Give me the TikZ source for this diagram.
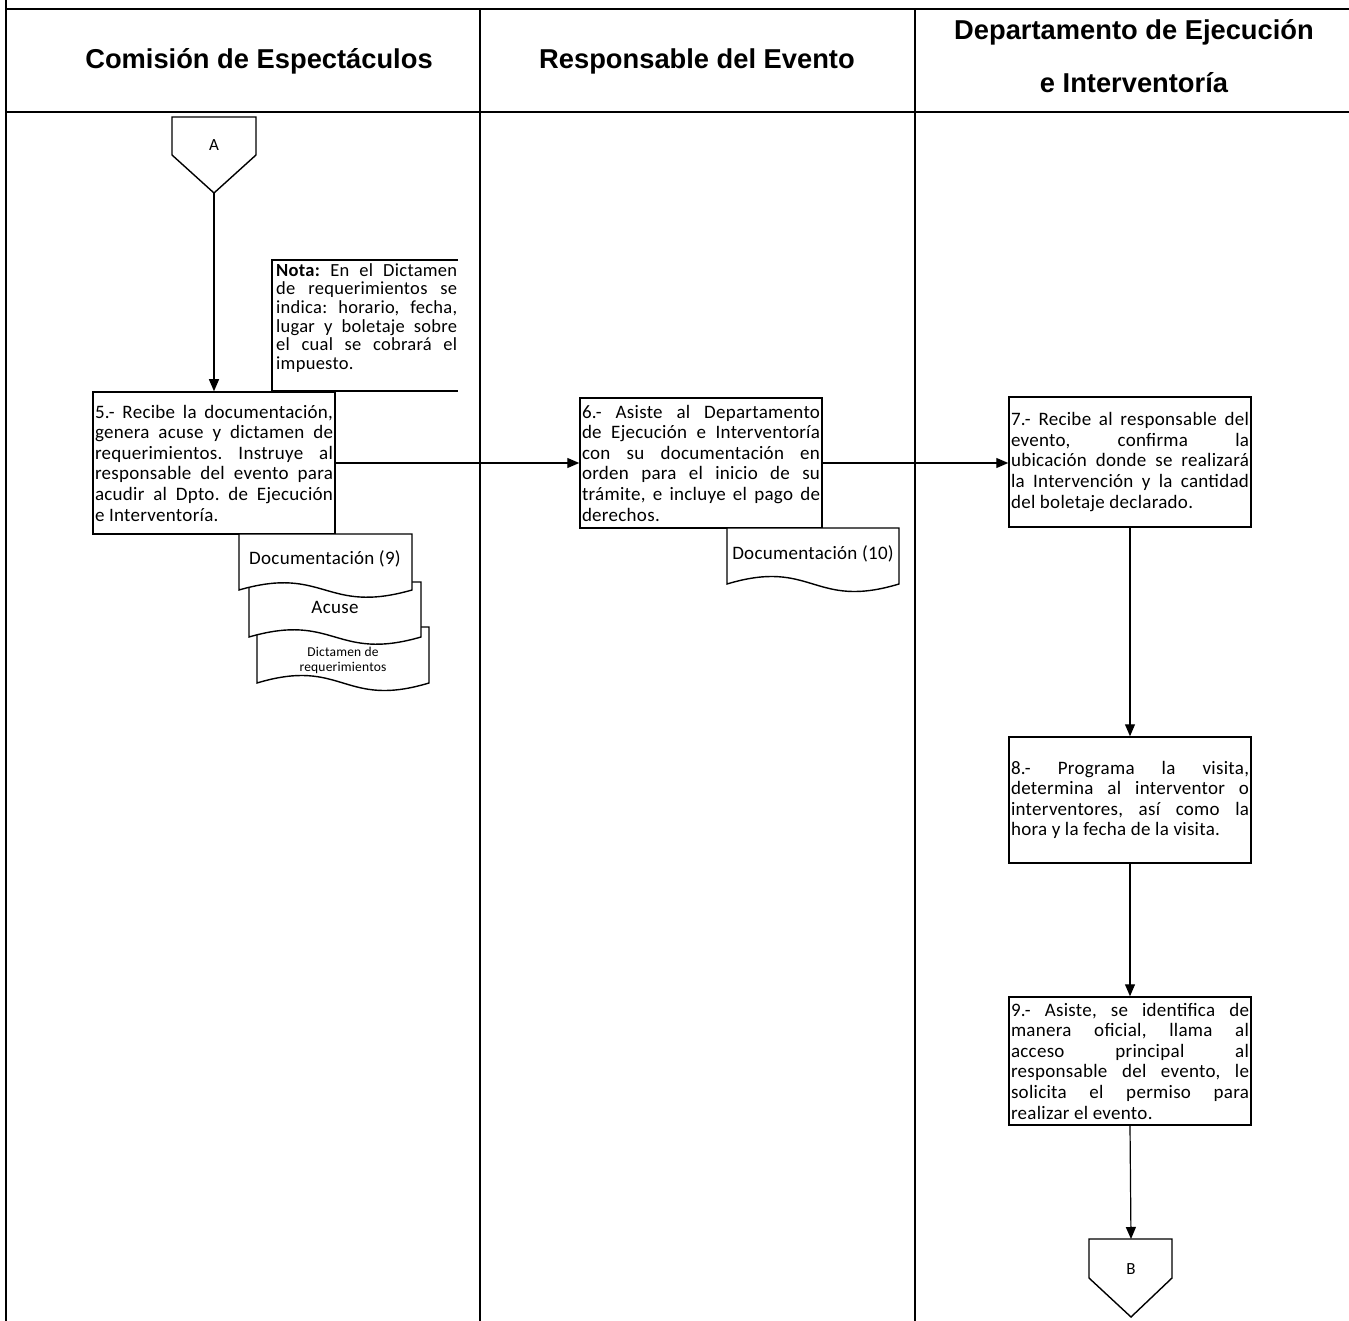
\documentclass[tikz,border=0pt]{standalone}
\usepackage{fontspec}
\setmainfont{Carlito}[LetterSpace=1.5]
\newfontfamily\hdrfont{Liberation Sans}
\usetikzlibrary{arrows.meta,calc}
\frenchspacing
\begin{document}
\begin{tikzpicture}[x=1pt,y=-1pt,
  frame/.style={line width=2.4pt},
  stepbox/.style={draw, line width=1.5pt, text width=238pt, minimum width=242pt,
    align=justify, inner sep=2pt, font=\fontsize{19}{20.6}\selectfont,
    execute at begin node={\hyphenpenalty=10000\exhyphenpenalty=10000\emergencystretch=0pt}},
  arr/.style={line width=1.2pt, -{Triangle[length=12pt,width=10pt]}},
  hdr/.style={font=\hdrfont\bfseries\fontsize{27.3}{34}\selectfont, align=center},
  docshape/.style={draw, line width=1.4pt, fill=white},
  conn/.style={draw, line width=1.4pt, fill=white},
  doctext/.style={font=\fontsize{19}{20}\selectfont, inner sep=0pt, align=center},
]
\useasboundingbox (0,0) rectangle (1349,1321);
% frame
\draw[frame] (6,0) -- (6,1321);
\draw[frame] (6,9) -- (1349,9);
\draw[frame] (6,112) -- (1349,112);
\draw[frame] (480,9) -- (480,1321);
\draw[frame] (915,9) -- (915,1321);
% headers
\node[hdr] (h1) at (259,61) {Comisión de Espectáculos};
\node[hdr] (h2) at (697,61) {Responsable del Evento};
\node[hdr, font=\hdrfont\bfseries\fontsize{27.3}{53}\selectfont] (h3) at (1134,56) {Departamento de Ejecución\\e Interventoría};
% connector A
\path[conn] (172,117) -- (256,117) -- (256,155) -- (214,193) -- (172,155) -- cycle;
\node[font=\fontsize{17}{19}\selectfont, inner sep=0pt] (A) at (214,145) {A};
\coordinate (Atip) at (214,193);
% nota
\draw[line width=1.5pt] (458,260) -- (272,260) -- (272,391) -- (458,391);
\node[anchor=north west, text width=181pt, align=justify, inner sep=0pt,
  font=\fontsize{18.5}{18.7}\selectfont,
  execute at begin node={\hyphenpenalty=10000\exhyphenpenalty=10000}] (nota) at (276,263)
  {\textbf{Nota:} En el Dictamen\linebreak de requerimientos se\linebreak indica: horario, fecha,\linebreak lugar y boletaje sobre\linebreak el cual se cobrará el\linebreak impuesto.};
% step boxes
\node[stepbox, minimum height=142pt] (b5) at (214,463)
  {5.- Recibe la documentación,\linebreak genera acuse y dictamen de\linebreak requerimientos. Instruye al\linebreak responsable del evento para\linebreak acudir al Dpto. de Ejecución\linebreak e Interventoría.};
\node[stepbox, minimum height=130pt] (b6) at (701,463)
  {6.- Asiste al Departamento\linebreak de Ejecución e Interventoría\linebreak con su documentación en\linebreak orden para el inicio de su\linebreak trámite, e incluye el pago de\linebreak derechos.};
\node[stepbox, minimum height=130pt] (b7) at (1130,462)
  {7.- Recibe al responsable del\linebreak evento, confirma la\linebreak ubicación donde se realizará\linebreak la Intervención y la cantidad\linebreak del boletaje declarado.};
\node[stepbox, minimum height=126pt] (b8) at (1130,800)
  {8.- Programa la visita,\linebreak determina al interventor o\linebreak interventores, así como la\linebreak hora y la fecha de la visita.};
\node[stepbox, minimum height=128pt] (b9) at (1130,1061)
  {9.- Asiste, se identifica de\linebreak manera oficial, llama al\linebreak acceso principal al\linebreak responsable del evento, le\linebreak solicita el permiso para\linebreak realizar el evento.};
% documents (back to front)
\path[docshape] (257,627) -- (429,627) -- (429,683) .. controls (343,709) and (343,657) .. (257,683) -- cycle;
\node[font=\fontsize{13.5}{15}\selectfont, align=center, inner sep=0pt] (dict) at (343,660.5) {Dictamen de\\requerimientos};
\path[docshape] (249,582) -- (421,582) -- (421,637) .. controls (335,662) and (335,612) .. (249,637) -- cycle;
\node[doctext] (acuse) at (335,607) {Acuse};
\path[docshape] (239,534) -- (412,534) -- (412,590) .. controls (325,615) and (325,565) .. (239,590) -- cycle;
\node[doctext] (d9) at (325,559) {Documentación (9)};
\path[docshape] (727,528) -- (899,528) -- (899,584) .. controls (813,610) and (813,558) .. (727,584) -- cycle;
\node[doctext] (d10) at (813,554) {Documentación (10)};
% connector B
\path[conn] (1089,1239) -- (1172,1239) -- (1172,1278) -- (1131,1317) -- (1089,1278) -- cycle;
\node[font=\fontsize{17}{19}\selectfont, inner sep=0pt] (B) at (1131,1269) {B};
\coordinate (Btop) at (1131,1239);
% connectors
\draw[arr] (Atip) -- (b5.north);
\draw[arr] (b5.east) -- (b6.west);
\draw[arr] (b6.east) -- (b7.west |- b6.east);
\draw[arr] (b7.south) -- (b8.north);
\draw[arr] (b8.south) -- (b9.north);
\draw[arr] (b9.south) -- (Btop);
\end{tikzpicture}
\end{document}
